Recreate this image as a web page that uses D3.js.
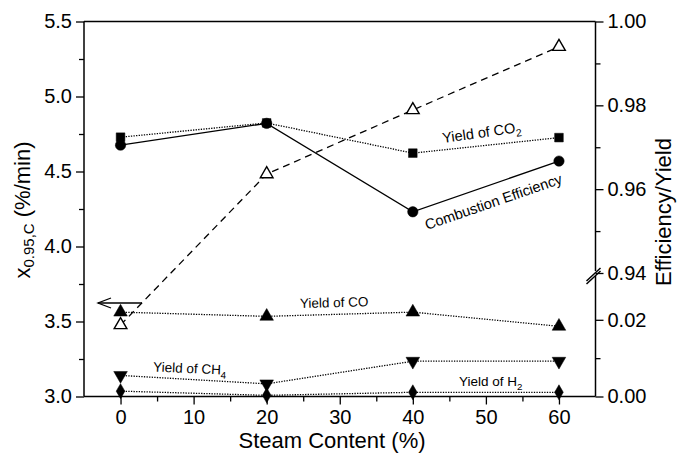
<!DOCTYPE html>
<html><head><meta charset="utf-8">
<script src="https://cdn.jsdelivr.net/npm/d3@7"></script>
<style>body{margin:0;background:#fff}svg{display:block;font-family:"Liberation Sans",Arial,sans-serif}</style>
</head><body><svg id="c" width="678" height="458"></svg>
<script>
const steam = [0, 20, 40, 60];
const x095 = [3.477, 4.483, 4.91, 5.332];
const combEff = [0.9705, 0.9757, 0.9546, 0.9667];
const yieldCO2 = [0.9724, 0.9758, 0.9686, 0.9723];
const yieldCO = [0.0220, 0.0209, 0.0220, 0.0183];
const yieldCH4 = [0.0055, 0.0033, 0.0092, 0.0092];
const yieldH2 = [0.0014, 0.0003, 0.0011, 0.0011];
const xTicks = [0, 10, 20, 30, 40, 50, 60];
const leftTicks = [3.0, 3.5, 4.0, 4.5, 5.0, 5.5];
const rightUpTicks = [0.94, 0.96, 0.98, 1.00];
const rightLowTicks = [0.00, 0.02];

const L = 84, R = 595.5, T = 21.5, B = 396.5, BRK = 273;
const svg = d3.select("#c");
const x = d3.scaleLinear([-5, 65], [L, R]);
const yL = d3.scaleLinear([3.0, 5.5], [B, T]);
const yUp = d3.scaleLinear([0.94, 1.00], [BRK, T]);
const yLow = d3.scaleLinear([0, 0.02], [B, 319.8]);

// axes
svg.append("g").attr("transform", `translate(0,${B})`)
  .call(d3.axisBottom(x).tickValues(xTicks).tickSize(8).tickPadding(5).tickFormat(d3.format("d")));
svg.append("g").attr("transform", `translate(0,${B})`)
  .call(d3.axisBottom(x).tickValues([5,15,25,35,45,55]).tickSize(5).tickFormat(""));
svg.append("g").attr("transform", `translate(${L},0)`)
  .call(d3.axisLeft(yL).tickValues(leftTicks).tickSize(8).tickPadding(4).tickFormat(d3.format(".1f")));
svg.append("g").attr("transform", `translate(${L},0)`)
  .call(d3.axisLeft(yL).tickValues([3.25,3.75,4.25,4.75,5.25]).tickSize(5).tickFormat(""));
svg.append("g").attr("transform", `translate(${R},0)`)
  .call(d3.axisRight(yUp).tickValues(rightUpTicks).tickSize(8).tickPadding(4).tickFormat(d3.format(".2f")));
svg.append("g").attr("transform", `translate(${R},0)`)
  .call(d3.axisRight(yUp).tickValues([0.95,0.97,0.99]).tickSize(5).tickFormat(""));
svg.append("g").attr("transform", `translate(${R},0)`)
  .call(d3.axisRight(yLow).tickValues(rightLowTicks).tickSize(8).tickPadding(4).tickFormat(d3.format(".2f")));
svg.append("g").attr("transform", `translate(${R},0)`)
  .call(d3.axisRight(yLow).tickValues([0.01]).tickSize(5).tickFormat(""));
svg.selectAll(".domain").remove();
svg.selectAll(".tick line").attr("stroke", "#000").attr("stroke-width", 1.3);
svg.selectAll(".tick text").attr("font-size", 20).attr("fill", "#000")
  .attr("font-family", "Liberation Sans, Arial, sans-serif");

// frame
const fr = svg.append("g").attr("stroke", "#000").attr("stroke-width", 1.5).attr("fill", "none");
fr.append("line").attr("x1", L).attr("x2", L).attr("y1", T).attr("y2", B);
fr.append("line").attr("x1", L).attr("x2", R).attr("y1", T).attr("y2", T);
fr.append("line").attr("x1", L).attr("x2", R).attr("y1", B).attr("y2", B);
fr.append("line").attr("x1", R).attr("x2", R).attr("y1", T).attr("y2", BRK - 2);
fr.append("line").attr("x1", R).attr("x2", R).attr("y1", BRK + 3).attr("y2", B);
// break marks
fr.append("line").attr("x1", R - 9).attr("y1", BRK + 8).attr("x2", R + 5).attr("y2", BRK - 5);
fr.append("line").attr("x1", R - 9).attr("y1", BRK + 11).attr("x2", R + 5).attr("y2", BRK - 2);

// lines
const g = svg.append("g");
function series(vals, yf, dash, w) {
  const ln = d3.line().x((d, i) => x(steam[i])).y(d => yf(d));
  g.append("path").datum(vals).attr("d", ln).attr("fill", "none")
    .attr("stroke", "#000").attr("stroke-width", w).attr("stroke-dasharray", dash);
}
series(x095, yL, "7,5", 1.3);
series(yieldCO2, yUp, "1.3,1.3", 1.3);
series(combEff, yUp, null, 1.3);
series(yieldCO, yLow, "1.3,1.3", 1.3);
series(yieldCH4, yLow, "1.3,1.3", 1.3);
series(yieldH2, yLow, "1.3,1.3", 1.3);

// markers
function marks(vals, yf, type, size, fill) {
  g.selectAll(null).data(vals).enter().append("path")
    .attr("transform", (d, i) => `translate(${x(steam[i])},${yf(d)})` + (type === "down" ? " rotate(180)" : ""))
    .attr("d", d3.symbol().type(type === "circle" ? d3.symbolCircle : type === "square" ? d3.symbolSquare :
      type === "diamond" ? d3.symbolDiamond : d3.symbolTriangle).size(size))
    .attr("fill", fill).attr("stroke", "#000").attr("stroke-width", fill === "#fff" ? 1.4 : 0.5);
}
marks(x095, yL, "tri", 70, "#fff");
marks(yieldCO2, yUp, "square", 75, "#000");
marks(combEff, yUp, "circle", 85, "#000");
marks(yieldCO, yLow, "tri", 80, "#000");
marks(yieldCH4, yLow, "down", 80, "#000");
marks(yieldH2, yLow, "diamond", 65, "#000");

// arrow
const ar = svg.append("g").attr("stroke", "#000").attr("stroke-width", 1.3).attr("fill", "none");
ar.append("line").attr("x1", 98).attr("y1", 303).attr("x2", 142).attr("y2", 303);
ar.append("polyline").attr("points", "111,298 98,303 111,308");

// data labels
function lab(txt, sub, px, py, rot, fs) {
  const t = svg.append("text").attr("transform", `translate(${px},${py}) rotate(${rot})`)
    .attr("font-size", fs).attr("fill", "#000");
  t.append("tspan").text(txt);
  if (sub) t.append("tspan").attr("dy", 4).attr("font-size", fs * 0.72).text(sub);
}
lab("Yield of CO", "2", 443, 143, -8, 14.5);
lab("Combustion Efficiency", null, 427, 230, -19, 14.6);
lab("Yield of CO", null, 300, 308, -1.5, 13.5);
lab("Yield of CH", "4", 153, 371.5, 2.5, 13.5);
lab("Yield of H", "2", 459, 386, 0, 13.5);

// axis titles
svg.append("text").attr("x", 332).attr("y", 448).attr("text-anchor", "middle")
  .attr("font-size", 22).text("Steam Content (%)");
const lt = svg.append("text").attr("transform", "translate(30,210) rotate(-90)")
  .attr("text-anchor", "middle").attr("font-size", 22);
lt.append("tspan").text("x");
lt.append("tspan").attr("dy", 4).attr("font-size", 15).text("0.95,C");
lt.append("tspan").attr("dy", -4).text(" (%/min)");
svg.append("text").attr("transform", "translate(671,212) rotate(-90)")
  .attr("text-anchor", "middle").attr("font-size", 22).text("Efficiency/Yield");
</script></body></html>
